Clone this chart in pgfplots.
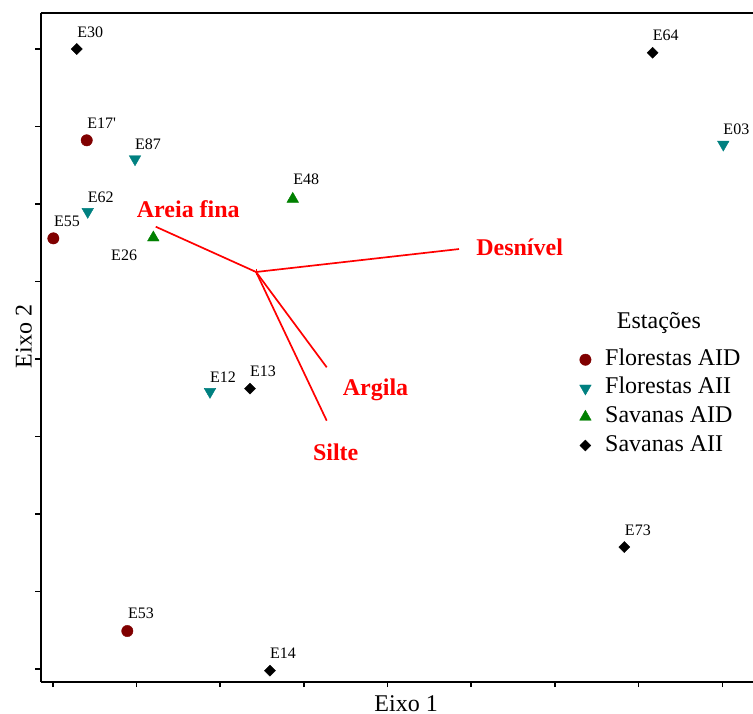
\documentclass[border=0pt]{standalone}
\usepackage{fontspec}
\setmainfont{Liberation Serif}
\usepackage{pgfplots}
\usepackage{pgfplotstable}
\pgfplotsset{compat=1.18}

\definecolor{florAID}{HTML}{800000}
\definecolor{florAII}{HTML}{008080}
\definecolor{savAID}{HTML}{008000}

% Station scores (Eixo 1, Eixo 2) with label offsets in bp
\pgfplotstableread{
x     y      lab                    dx    dy
0.405 6.822  {E17\textquotesingle}  0.5   12.3
0.006 5.557  E55                    0.5   12.3
0.890 0.490  E53                    0.5   12.3
}\florestasAID
\pgfplotstableread{
x     y      lab  dx    dy
0.982 6.580  E87  0.0   9.8
0.417 5.901  E62  0.0   9.6
1.878 3.578  E12  0.0   9.6
8.012 6.769  E03  0.0   9.6
}\florestasAII
\pgfplotstableread{
x     y      lab  dx     dy
2.867 6.065  E48  0.5    14.6
1.201 5.566  E26  -42.3  -22.4
}\savanasAID
\pgfplotstableread{
x     y      lab  dx    dy
0.286 8.000  E30  0.5   12.0
2.356 3.617  E13  0.0   12.3
2.595 -0.022 E14  0.0   12.3
7.168 7.952  E64  0.0   12.0
6.829 1.574  E73  0.5   12.0
}\savanasAII

\pgfplotsset{
  ptlab/.style={
    nodes near coords,
    point meta=explicit symbolic,
    visualization depends on={\thisrow{dx} \as \labdx},
    visualization depends on={\thisrow{dy} \as \labdy},
    every node near coord/.append style={
      anchor=base west, inner sep=0pt, text=black,
      font=\fontsize{16bp}{19bp}\selectfont,
      xshift=\labdx bp, yshift=\labdy bp},
  },
  vec/.style={red, line width=1.7bp, forget plot},
}
\tikzset{veclab/.style={text=red, anchor=base, font=\fontsize{24bp}{28bp}\selectfont\bfseries}}

\begin{document}
\begin{tikzpicture}
\useasboundingbox (-40.7bp,-32.3bp) rectangle (712.3bp,681.7bp);
\begin{axis}[
  scale only axis, width=712.3bp, height=668.7bp,
  xmin=-0.145, xmax=8.367, ymin=-0.164, ymax=8.465,
  axis x line=bottom, axis y line=left,
  axis line style={-, line width=2bp, black},
  xtick={0,...,8}, ytick={0,...,8},
  xticklabels={}, yticklabels={},
  tick align=outside, major tick length=5.5bp,
  tick style={line width=1.5bp, black},
  clip=false,
  xlabel={Eixo 1}, ylabel={Eixo 2},
  every axis x label/.style={at={(rel axis cs:0.513,0)}, anchor=base,
    yshift=-29.5bp, inner sep=0pt, text depth=0pt,
    font=\fontsize{24bp}{28bp}\selectfont},
  every axis y label/.style={at={(rel axis cs:-0.01264,0.516)}, anchor=base,
    rotate=90, font=\fontsize{24bp}{28bp}\selectfont},
  legend style={at={(0.7563,0.4975)}, anchor=north west, draw=none, fill=none,
    inner sep=0pt, font=\fontsize{24bp}{28bp}\selectfont,
    nodes={inner sep=0pt, text height=16bp, text depth=5bp},
    row sep=7.6bp, column sep=14bp},
  legend cell align=left,
]
% top frame line
\draw[line width=2bp] (rel axis cs:0,1) -- (rel axis cs:1,1);

\addplot[only marks, mark=*, mark size=5.7bp, color=florAID, ptlab]
  table[x=x, y=y, meta=lab] {\florestasAID};
\addlegendentry{Florestas AID}
\addplot[only marks, mark=triangle*, mark size=6.7bp, color=florAII,
  mark options={rotate=180}, ptlab]
  table[x=x, y=y, meta=lab] {\florestasAII};
\addlegendentry{Florestas AII}
\addplot[only marks, mark=triangle*, mark size=6.7bp, color=savAID, ptlab]
  table[x=x, y=y, meta=lab] {\savanasAID};
\addlegendentry{Savanas AID}
\addplot[only marks, mark=square*, mark size=3.9bp, color=black,
  mark options={rotate=45}, ptlab]
  table[x=x, y=y, meta=lab] {\savanasAII};
\addlegendentry{Savanas AII}

% environmental vectors
\addplot[vec] coordinates {(2.429,5.123) (1.230,5.707)};
\addplot[vec] coordinates {(2.429,5.123) (4.854,5.419)};
\addplot[vec] coordinates {(2.429,5.123) (3.273,3.893)};
\addplot[vec] coordinates {(2.429,5.123) (3.273,3.204)};
\addplot[red, only marks, mark=+, mark size=3bp, mark options={line width=1bp}, forget plot]
  coordinates {(2.429,5.123)};

\node[veclab] at (axis cs:1.619,5.828) {Areia fina};
\node[veclab] at (axis cs:5.578,5.342) {Desnível};
\node[veclab] at (axis cs:3.856,3.523) {Argila};
\node[veclab] at (axis cs:3.380,2.688) {Silte};

\node[anchor=base, font=\fontsize{24bp}{28bp}\selectfont] at (axis cs:7.243,4.396) {Estações};
\end{axis}
\end{tikzpicture}
\end{document}
